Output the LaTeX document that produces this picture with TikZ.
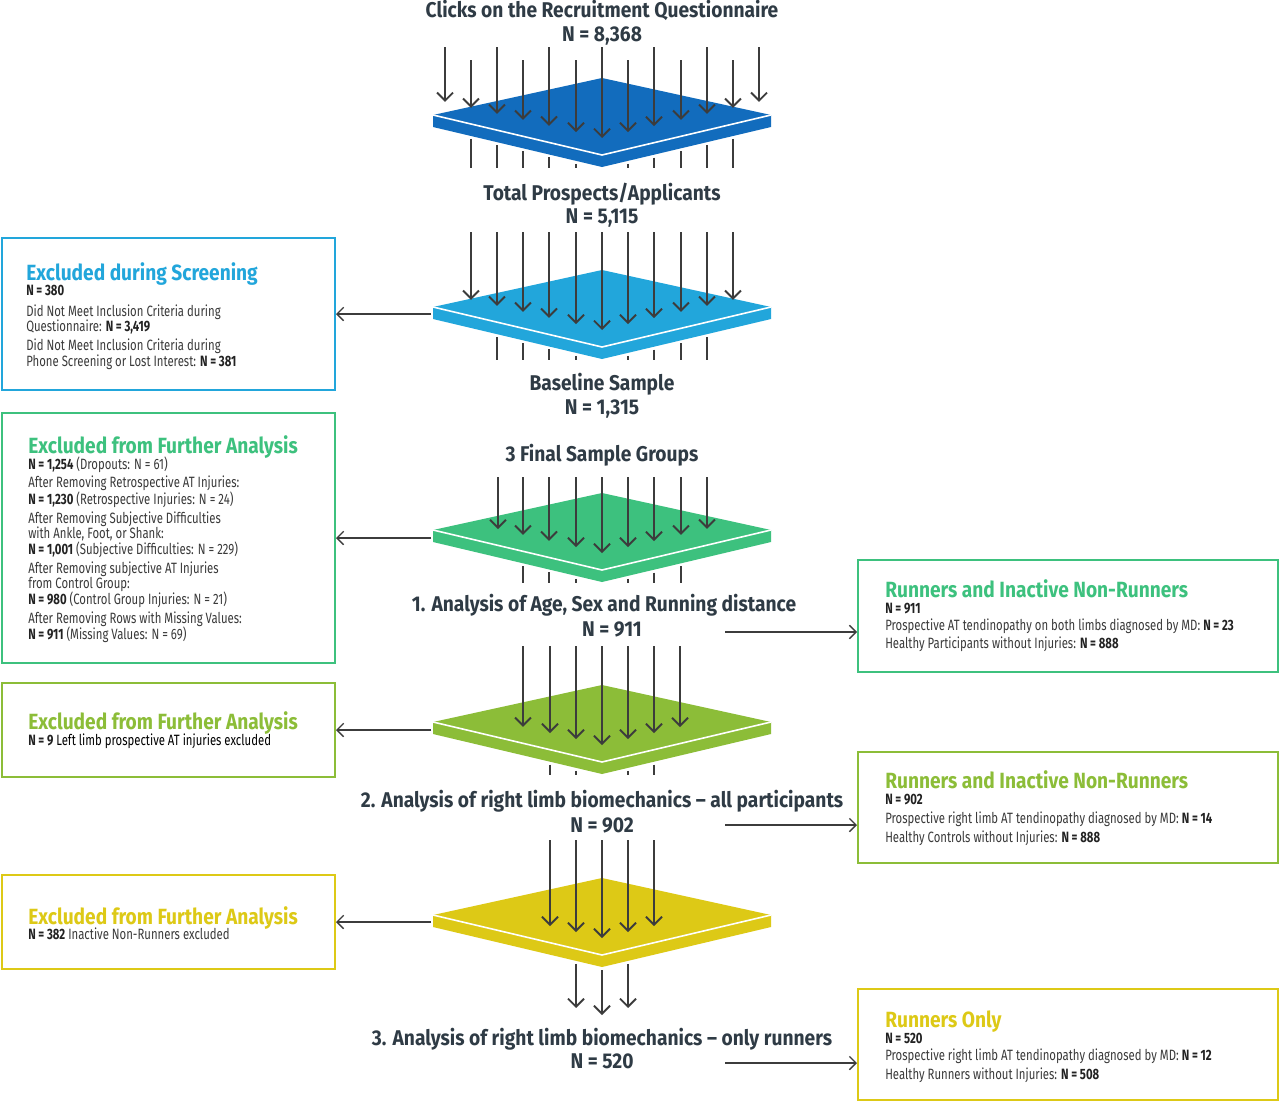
\documentclass[tikz,border=0pt]{standalone}
\usepackage{fontspec}
\setmainfont[FakeStretch=0.76]{Fira Sans}
\newfontfamily\ctfont[FakeStretch=0.9]{Fira Sans}
\newfontfamily\btfont[FakeStretch=0.87]{Fira Sans}
\usetikzlibrary{arrows.meta,fit}
\definecolor{cDa}{HTML}{126CBD}
\definecolor{cDb}{HTML}{22A6DB}
\definecolor{cDc}{HTML}{3DC17E}
\definecolor{cDd}{HTML}{8CBD38}
\definecolor{cDe}{HTML}{DDC916}
\definecolor{cDark}{HTML}{2F3B45}
\definecolor{cBody}{HTML}{3A3A3A}
\definecolor{cBold}{HTML}{222222}
\definecolor{cArr}{HTML}{3C3C3C}
\tikzset{
  arr/.style={draw=cArr, line width=1.4pt, -{Straight Barb[length=6pt,width=12pt,line width=1.4pt]}},
  stub/.style={draw=cArr, line width=1.4pt},
  harr/.style={draw=cArr, line width=1pt, -{Straight Barb[length=5pt,width=10pt,line width=1pt]}},
  ctitle/.style={font=\ctfont\bfseries\fontsize{16}{19}\selectfont, text=cDark, anchor=base, inner sep=0pt},
  btitle/.style={font=\btfont\bfseries\fontsize{16.5}{19}\selectfont, anchor=base west, inner sep=0pt, text depth=0pt},
  body/.style={font=\fontsize{11.2}{13}\selectfont, text=cBody, anchor=base west, inner sep=0pt},
  boxst/.style={draw=#1, line width=1.5pt, inner sep=0pt, fill=none},
}
\newcommand\NB[1]{\textbf{\color{cBold}#1}}
% funnel: #1 top y, #2 colour
\newcommand\funnel[2]{%
  \fill[#2] (433,#1+37) -- (602,#1) -- (771,#1+37) -- (771,#1+49) -- (602,#1+89) -- (433,#1+49) -- cycle;
  \draw[white, line width=1.2pt] (433,#1+37) -- (602,#1+77) -- (771,#1+37);
}
% arrows into funnel: #1 top y of funnel, #2 start y, #3 list of x
\newcommand\inarrows[3]{%
  \foreach \xx in {#3} {\draw[arr] (\xx,#2) -- (\xx,{#1+60-0.23*abs(\xx-602)});}
}
% stubs under funnel: #1 top y, #2 list of x
\newcommand\outstubs[2]{%
  \foreach \xx in {#2} {\draw[stub] (\xx,{#1+92-0.237*abs(\xx-602)}) -- (\xx,#1+90);}
}
\begin{document}
\begin{tikzpicture}[x=0.75pt,y=-0.75pt]
\useasboundingbox (0,0) rectangle (1280,1103);
\fill[white] (0,0) rectangle (1280,1103);

% ---------- funnels ----------
\funnel{78}{cDa}
\foreach \xx in {445,497,549,602,654,707,759} {\draw[arr] (\xx,47) -- (\xx,{138-0.23*abs(\xx-602)});}
\foreach \xx in {471,523,576,628,681,733} {\draw[arr] (\xx,60) -- (\xx,{138-0.23*abs(\xx-602)});}
\outstubs{78}{471,497,523,549,576,628,654,681,707,733}

\funnel{270}{cDb}
\inarrows{270}{232}{471,497,523,549,576,602,628,654,681,707,733}
\outstubs{270}{497,523,549,576,628,654,681,707}

\funnel{493}{cDc}
\inarrows{493}{477}{498,523,549,576,602,628,654,681,707}
\outstubs{493}{523,549,576,628,654,681}

\funnel{685}{cDd}
\inarrows{685}{646}{523,550,576,602,628,654,680}
\outstubs{685}{550,576,628,654}

\funnel{878}{cDe}
\inarrows{878}{840}{550,576,602,628,654}
\foreach \xx in {576,602,628} {\draw[arr] (\xx,{878+92-0.237*abs(\xx-602)}) -- (\xx,{1015-0.27*abs(\xx-602)});}

% ---------- centre texts ----------
\node[ctitle] (t1) at (602,17) {Clicks on the Recruitment Questionnaire};
\node[ctitle] (t1n) at (602,41) {N = 8,368};
\node[ctitle] (t2) at (602,200) {Total Prospects/Applicants};
\node[ctitle] (t2n) at (602,223) {N = 5,115};
\node[ctitle] (t3) at (602,390) {Baseline Sample};
\node[ctitle] (t3n) at (602,414) {N = 1,315};
\node[ctitle] (t4) at (602,461) {3 Final Sample Groups};
\node[ctitle] (t5) at (604,611) {1. Analysis of Age, Sex and Running distance};
\node[ctitle] (t5n) at (612,636) {N = 911};
\node[ctitle] (t6) at (602,807) {2. Analysis of right limb biomechanics \textendash{} all participants};
\node[ctitle] (t6n) at (602,832) {N = 902};
\node[ctitle] (t7) at (602,1045) {3. Analysis of right limb biomechanics \textendash{} only runners};
\node[ctitle] (t7n) at (602,1068) {N = 520};

% ---------- left boxes ----------
\coordinate (a1) at (2,238); \coordinate (a2) at (335,390);
\node[boxst=cDb, fit=(a1)(a2)] (boxA) {};
\node[btitle, text=cDb] (At) at (26,280) {Excluded during Screening};
\node[body] (A1) at (26,295) {\NB{N = 380}};
\node[body] (A2) at (26,316) {Did Not Meet Inclusion Criteria during};
\node[body] (A3) at (26,331) {Questionnaire: \NB{N = 3,419}};
\node[body] (A4) at (26,350) {Did Not Meet Inclusion Criteria during};
\node[body] (A5) at (26,366) {Phone Screening or Lost Interest: \NB{N = 381}};

\coordinate (b1) at (2,413); \coordinate (b2) at (335,663);
\node[boxst=cDc, fit=(b1)(b2)] (boxB) {};
\node[btitle, text=cDc] (Bt) at (28,453) {Excluded from Further Analysis};
\node[body] (B1) at (28,469) {\NB{N = 1,254} (Dropouts: N = 61)};
\node[body] (B2) at (28,487) {After Removing Retrospective AT Injuries:};
\node[body] (B3) at (28,504) {\NB{N = 1,230} (Retrospective Injuries: N = 24)};
\node[body] (B4) at (28,523) {After Removing Subjective Difficulties};
\node[body] (B5) at (28,538) {with Ankle, Foot, or Shank:};
\node[body] (B6) at (28,554) {\NB{N = 1,001} (Subjective Difficulties: N = 229)};
\node[body] (B7) at (28,573) {After Removing subjective AT Injuries};
\node[body] (B8) at (28,588) {from Control Group:};
\node[body] (B9) at (28,604) {\NB{N = 980} (Control Group Injuries: N = 21)};
\node[body] (B10) at (28,623) {After Removing Rows with Missing Values:};
\node[body] (B11) at (28,639) {\NB{N = 911} (Missing Values: N = 69)};

\coordinate (c1) at (2,683); \coordinate (c2) at (335,777);
\node[boxst=cDd, fit=(c1)(c2)] (boxC) {};
\node[btitle, text=cDd] (Ct) at (28,729) {Excluded from Further Analysis};
\node[body] (C1) at (28,745) {\NB{N = 9} \color{black}Left limb prospective AT injuries excluded};

\coordinate (d1) at (2,875); \coordinate (d2) at (335,969);
\node[boxst=cDe, fit=(d1)(d2)] (boxD) {};
\node[btitle, text=cDe] (Dt) at (28,924) {Excluded from Further Analysis};
\node[body] (D1) at (28,939) {\NB{N = 382} Inactive Non-Runners excluded};

% ---------- right boxes ----------
\coordinate (e1) at (858,560); \coordinate (e2) at (1278,672);
\node[boxst=cDc, fit=(e1)(e2)] (boxE) {};
\node[btitle, text=cDc] (Et) at (885,597) {Runners and Inactive Non-Runners};
\node[body] (E1) at (885,613) {\NB{N = 911}};
\node[body] (E2) at (885,630) {Prospective AT tendinopathy on both limbs diagnosed by MD: \NB{N = 23}};
\node[body] (E3) at (885,648) {Healthy Participants without Injuries: \NB{N = 888}};

\coordinate (f1) at (858,752); \coordinate (f2) at (1278,863);
\node[boxst=cDd, fit=(f1)(f2)] (boxF) {};
\node[btitle, text=cDd] (Ft) at (885,788) {Runners and Inactive Non-Runners};
\node[body] (F1) at (885,804) {\NB{N = 902}};
\node[body] (F2) at (885,823) {Prospective right limb AT tendinopathy diagnosed by MD: \NB{N = 14}};
\node[body] (F3) at (885,842) {Healthy Controls without Injuries: \NB{N = 888}};

\coordinate (g1) at (858,989); \coordinate (g2) at (1278,1100);
\node[boxst=cDe, fit=(g1)(g2)] (boxG) {};
\node[btitle, text=cDe] (Gt) at (885,1027) {Runners Only};
\node[body] (G1) at (885,1043) {\NB{N = 520}};
\node[body] (G2) at (885,1060) {Prospective right limb AT tendinopathy diagnosed by MD: \NB{N = 12}};
\node[body] (G3) at (885,1079) {Healthy Runners without Injuries: \NB{N = 508}};

% ---------- connectors ----------
\coordinate (pA) at (431,314);
\coordinate (pB) at (431,538);
\coordinate (pC) at (431,730);
\coordinate (pD) at (431,922);
\draw[harr] (pA) -- (boxA.east |- pA);
\draw[harr] (pB) -- (boxB.east |- pB);
\draw[harr] (pC) -- (boxC.east |- pC);
\draw[harr] (pD) -- (boxD.east |- pD);
\coordinate (pE) at (725,632);
\coordinate (pF) at (725,825);
\coordinate (pG) at (725,1063);
\draw[harr] (pE) -- (boxE.west |- pE);
\draw[harr] (pF) -- (boxF.west |- pF);
\draw[harr] (pG) -- (boxG.west |- pG);
\end{tikzpicture}
\end{document}
